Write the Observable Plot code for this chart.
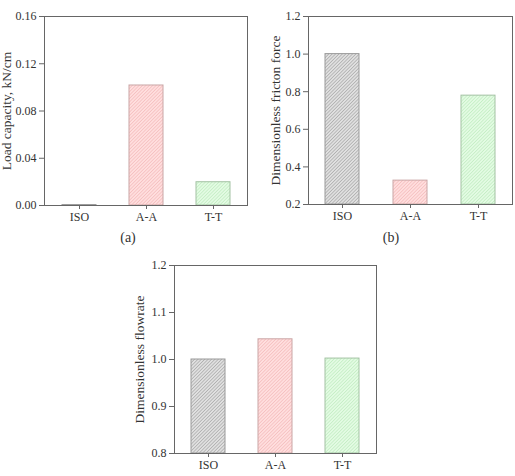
<!DOCTYPE html>
<html>
<head>
<meta charset="utf-8">
<script src="https://cdn.jsdelivr.net/npm/d3@7"></script>
<script src="https://cdn.jsdelivr.net/npm/@observablehq/plot@0.6"></script>
<style>
  html, body { margin: 0; padding: 0; background: #fff; }
  #wrap { position: relative; width: 515px; height: 476px; font-family: "Liberation Serif", "Times New Roman", serif; color: #333; }
  .panel { position: absolute; }
  .cap { position: absolute; font-size: 14px; transform: translate(-50%, -50%); }
</style>
</head>
<body>
<div id="wrap">
  <svg width="0" height="0" style="position:absolute">
    <defs>
      <pattern id="h0" patternUnits="userSpaceOnUse" width="2.4" height="2.4" patternTransform="rotate(45)">
        <rect width="2.4" height="2.4" fill="#e0e0e0"></rect>
        <line x1="0.4" y1="0" x2="0.4" y2="2.4" stroke="#b0b0b0" stroke-width="0.8"></line>
      </pattern>
      <pattern id="h1" patternUnits="userSpaceOnUse" width="2.4" height="2.4" patternTransform="rotate(45)">
        <rect width="2.4" height="2.4" fill="#ffdede"></rect>
        <line x1="0.4" y1="0" x2="0.4" y2="2.4" stroke="#f5c0c0" stroke-width="0.8"></line>
      </pattern>
      <pattern id="h2" patternUnits="userSpaceOnUse" width="2.4" height="2.4" patternTransform="rotate(45)">
        <rect width="2.4" height="2.4" fill="#e3fbe3"></rect>
        <line x1="0.4" y1="0" x2="0.4" y2="2.4" stroke="#c5eec5" stroke-width="0.8"></line>
      </pattern>
    </defs>
  </svg>
</div>
<script>
const categories = ["ISO", "A-A", "T-T"];
const loadCapacity = [0.0004, 0.1016, 0.0197];
const frictionForce = [1.0, 0.327, 0.779];
const flowrate = [1.0, 1.043, 1.002];
const loadTicks = [0, 0.04, 0.08, 0.12, 0.16];
const frictionTicks = [0.2, 0.4, 0.6, 0.8, 1.0, 1.2];
const flowTicks = [0.8, 0.9, 1.0, 1.1, 1.2];

const barStroke = ["#9a9a9a", "#caa6a6", "#a3c2a3"];

function panel({values, base, domain, ticks, fmt, label, width, height, margins, labelOffset}) {
  const rows = categories.map((c, i) => ({cat: c, v: values[i]}));
  const svg = Plot.plot({
    width, height,
    marginLeft: margins[0], marginRight: margins[1], marginTop: margins[2], marginBottom: margins[3],
    style: {fontFamily: "'Liberation Serif', 'Times New Roman', serif", fontSize: "12px", color: "#333", background: "transparent"},
    x: {type: "band", domain: categories, paddingInner: 0.5, paddingOuter: 0.25},
    y: {domain},
    marks: [
      ...rows.map((r, i) => Plot.barY([r], {x: "cat", y1: base, y2: "v", fill: `url(#h${i})`, stroke: barStroke[i], strokeWidth: 1})),
      Plot.frame({stroke: "#666"}),
      Plot.axisY({ticks, tickFormat: fmt, tickSize: 5, tickPadding: 3, stroke: "#666", label, labelAnchor: "center", labelOffset, labelArrow: "none"}),
      Plot.axisX({tickSize: 4, tickPadding: 3, stroke: "#666", label: null})
    ]
  });
  const lab = svg.querySelector('[aria-label="y-axis label"]');
  if (lab) lab.setAttribute("font-size", "13.5");
  return svg;
}

const wrap = document.getElementById("wrap");
function place(svg, left, top) {
  const d = document.createElement("div");
  d.className = "panel";
  d.style.left = left + "px";
  d.style.top = top + "px";
  d.appendChild(svg);
  wrap.appendChild(d);
}
function caption(text, x, y) {
  const d = document.createElement("div");
  d.className = "cap";
  d.style.left = x + "px";
  d.style.top = y + "px";
  d.textContent = text;
  wrap.appendChild(d);
}

place(panel({values: loadCapacity, base: 0, domain: [0, 0.16], ticks: loadTicks, fmt: d3.format(".2f"),
  label: "Load capacity, kN/cm", width: 255, height: 235, margins: [44, 8, 16, 30], labelOffset: 43}), 0, 0);
place(panel({values: frictionForce, base: 0.2, domain: [0.2, 1.2], ticks: frictionTicks, fmt: d3.format(".1f"),
  label: "Dimensionless fricton force", width: 255, height: 235, margins: [48, 3, 16, 31], labelOffset: 38}), 260, 0);
place(panel({values: flowrate, base: 0.8, domain: [0.8, 1.2], ticks: flowTicks, fmt: d3.format(".1f"),
  label: "Dimensionless flowrate", width: 260, height: 226, margins: [54, 4, 15, 23], labelOffset: 40}), 120, 250);
caption("(a)", 128, 238);
caption("(b)", 391, 238);
</script>
</body>
</html>
